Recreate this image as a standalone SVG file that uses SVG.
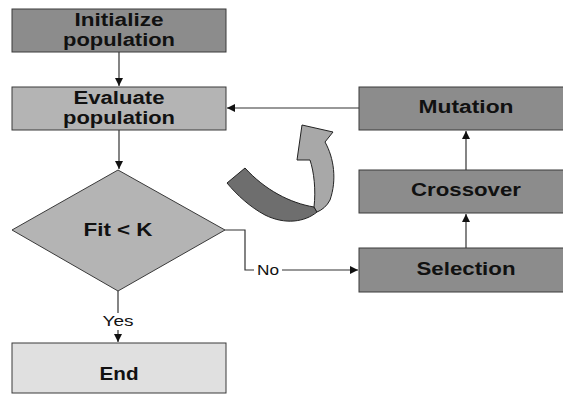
<svg xmlns="http://www.w3.org/2000/svg" width="563" height="396" viewBox="0 0 563 396">
<style>
.box{stroke:#3a3a3a;stroke-width:1}
.dark{fill:#8c8c8c}
.mid{fill:#b4b4b4}
.light{fill:#e0e0e0}
.t{font-family:"Liberation Sans",Arial,sans-serif;font-weight:bold;font-size:18px;fill:#111;text-anchor:middle}
.lbl{font-family:"Liberation Sans",Arial,sans-serif;font-size:14px;fill:#111;text-anchor:middle}
.c{fill:none;stroke:#333;stroke-width:1.2}
</style>
<defs>
<marker id="ah" markerUnits="userSpaceOnUse" markerWidth="9" markerHeight="9" refX="8" refY="4" orient="auto">
<path d="M0,0 L8,4 L0,8 Z" fill="#111"/>
</marker>
</defs>
<rect width="563" height="396" fill="#fff"/>
<g id="connectors">
<path class="c" d="M119,52 V86" marker-end="url(#ah)"/>
<path class="c" d="M119,130 V169" marker-end="url(#ah)"/>
<path class="c" d="M118,291 V313"/>
<path class="c" d="M118,330 V342" marker-end="url(#ah)"/>
<path class="c" d="M225,230 H245 V270 H254"/>
<path class="c" d="M282,270 H358" marker-end="url(#ah)"/>
<path class="c" d="M466,248 V214" marker-end="url(#ah)"/>
<path class="c" d="M466,170 V131" marker-end="url(#ah)"/>
<path class="c" d="M359,108 H227" marker-end="url(#ah)"/>
<text class="lbl" x="118" y="326" textLength="31" lengthAdjust="spacingAndGlyphs">Yes</text>
<text class="lbl" x="268" y="275" textLength="22" lengthAdjust="spacingAndGlyphs">No</text>
</g>
<g id="init">
<rect class="box dark" x="12" y="9" width="214" height="43"/>
<text class="t" x="119" y="26" textLength="89" lengthAdjust="spacingAndGlyphs">Initialize</text>
<text class="t" x="119" y="46" textLength="112" lengthAdjust="spacingAndGlyphs">population</text>
</g>
<g id="evaluate">
<rect class="box mid" x="12" y="87" width="214" height="43"/>
<text class="t" x="119" y="104" textLength="91" lengthAdjust="spacingAndGlyphs">Evaluate</text>
<text class="t" x="119" y="124" textLength="112" lengthAdjust="spacingAndGlyphs">population</text>
</g>
<g id="decision">
<polygon class="box mid" points="118,170 225,230 118,291 12,230"/>
<text class="t" x="118" y="236" textLength="69" lengthAdjust="spacingAndGlyphs">Fit &lt; K</text>
</g>
<g id="end">
<rect class="box light" x="12" y="343" width="214" height="50"/>
<text class="t" x="119" y="380" textLength="39" lengthAdjust="spacingAndGlyphs">End</text>
</g>
<g id="mutation">
<rect class="box dark" x="359" y="87" width="214" height="43"/>
<text class="t" x="466" y="113" textLength="95" lengthAdjust="spacingAndGlyphs">Mutation</text>
</g>
<g id="crossover">
<rect class="box dark" x="359" y="170" width="214" height="43"/>
<text class="t" x="466" y="196" textLength="110" lengthAdjust="spacingAndGlyphs">Crossover</text>
</g>
<g id="selection">
<rect class="box dark" x="359" y="248" width="214" height="44"/>
<text class="t" x="466" y="275" textLength="99" lengthAdjust="spacingAndGlyphs">Selection</text>
</g>
<g id="curved-arrow">
<path d="M245,168 C265,190 290,203 314,207 L317,212 C305,222 285,225 265,215 C250,207 237,195 227,183 Z" fill="#6e6e6e" stroke="#222" stroke-width="1"/>
<path d="M314,207 C316,190 314,172 310,160 L297,160 L302,125 L333,132 L325,142 C334,158 337,180 330,200 C327,206 322,210 317,212 Z" fill="#a8a8a8" stroke="#222" stroke-width="1"/>
</g>
</svg>
